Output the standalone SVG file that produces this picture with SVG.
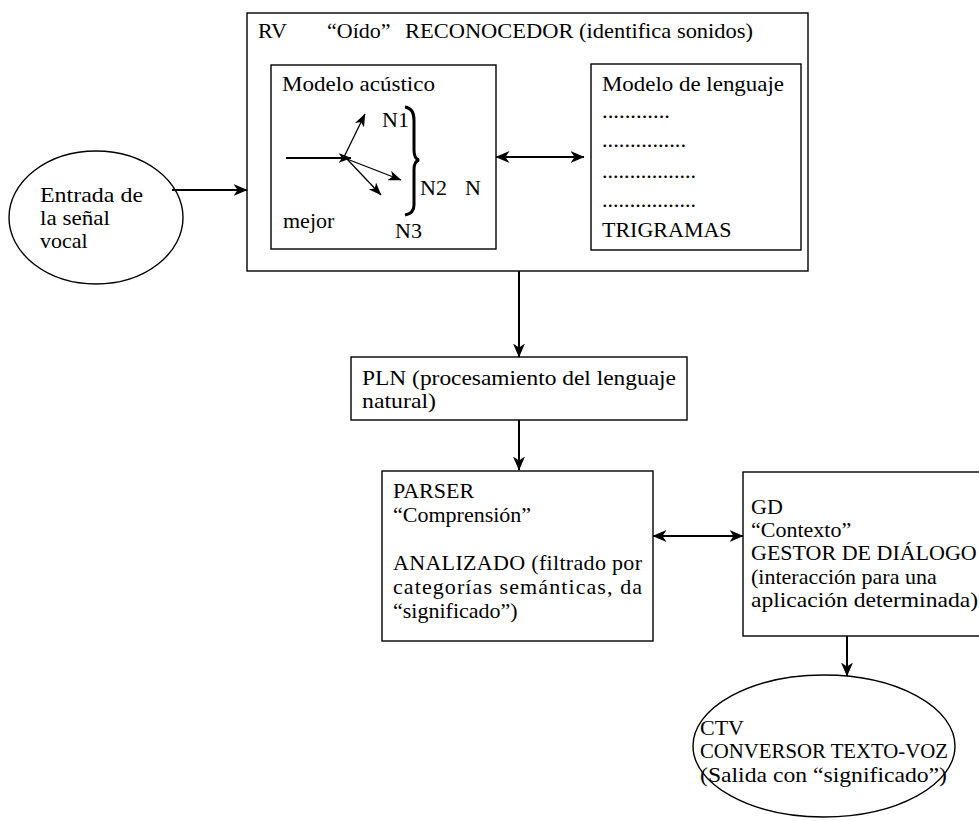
<svg xmlns="http://www.w3.org/2000/svg" width="979" height="821" viewBox="0 0 979 821" font-family="'Liberation Serif', 'DejaVu Serif', 'Times New Roman', serif" font-size="22">
<style>
text{font-family:'Liberation Serif','DejaVu Serif','Times New Roman',serif;font-size:22px;fill:#000}
.box{fill:#fff;stroke:#000;stroke-width:1.4}
.con{fill:none;stroke:#000;stroke-width:2}
.thin{fill:none;stroke:#000;stroke-width:1.3}
</style>
<defs>
<marker id="ah" viewBox="0 0 14 12" markerWidth="14" markerHeight="12" refX="13.5" refY="6" orient="auto-start-reverse" markerUnits="userSpaceOnUse"><path d="M0,0 L14,6 L0,12 L4,6 Z" fill="#000"/></marker>
<marker id="ahs" viewBox="0 0 13 10" markerWidth="13" markerHeight="10" refX="12.5" refY="5" orient="auto" markerUnits="userSpaceOnUse"><path d="M0,0 L13,5 L0,10 L3.5,5 Z" fill="#000"/></marker>
</defs>
<rect width="979" height="821" fill="#fff"/>

<g id="rv">
<rect class="box" x="247" y="13" width="561" height="258"/>
<text x="258" y="38">RV</text>
<text x="327" y="38">“Oído”</text>
<text x="405" y="38" textLength="348" lengthAdjust="spacingAndGlyphs">RECONOCEDOR (identifica sonidos)</text>
</g>

<g id="acustico">
<rect class="box" x="271" y="65" width="225" height="184"/>
<text x="282" y="91" textLength="153" lengthAdjust="spacingAndGlyphs">Modelo acústico</text>
<g id="acustico-ramas">
<path class="con" d="M286,158 L351,158" marker-end="url(#ahs)"/>
<path class="thin" d="M344,157 L365,114" marker-end="url(#ahs)"/>
<path class="thin" d="M347,159 L401,180" marker-end="url(#ahs)"/>
<path class="thin" d="M347,159 L381,195" marker-end="url(#ahs)"/>
<path d="M405,107 C412,108 414,113 414,120 L414,150 C414,156 415,159 419,160 C415,161 414,164 414,170 L414,205 C414,211 411,214 405,215" fill="none" stroke="#000" stroke-width="3"/>
</g>
<text x="382" y="127">N1</text>
<text x="420" y="195">N2</text>
<text x="465" y="195">N</text>
<text x="395" y="238">N3</text>
<text x="283" y="228">mejor</text>
</g>

<g id="lenguaje">
<rect class="box" x="591" y="64" width="210" height="186"/>
<text x="602" y="91" textLength="182" lengthAdjust="spacingAndGlyphs">Modelo de lenguaje</text>
<text x="602" y="118" textLength="68" lengthAdjust="spacingAndGlyphs">............</text>
<text x="602" y="147" textLength="84" lengthAdjust="spacingAndGlyphs">...............</text>
<text x="602" y="178" textLength="94" lengthAdjust="spacingAndGlyphs">.................</text>
<text x="602" y="207" textLength="94" lengthAdjust="spacingAndGlyphs">.................</text>
<text x="602" y="237">TRIGRAMAS</text>
</g>

<g id="entrada">
<ellipse cx="96" cy="217.5" rx="87" ry="66.5" fill="#fff" stroke="#000" stroke-width="1.4"/>
<text x="40" y="202" textLength="103" lengthAdjust="spacingAndGlyphs">Entrada de</text>
<text x="40" y="225" textLength="70" lengthAdjust="spacingAndGlyphs">la señal</text>
<text x="40" y="248">vocal</text>
</g>

<g id="pln">
<rect class="box" x="351" y="357" width="336" height="63"/>
<text x="362" y="385" textLength="314" lengthAdjust="spacingAndGlyphs">PLN (procesamiento del lenguaje</text>
<text x="362" y="408" textLength="74" lengthAdjust="spacingAndGlyphs">natural)</text>
</g>

<g id="parser">
<rect class="box" x="382" y="471" width="271" height="170"/>
<text x="393" y="498">PARSER</text>
<text x="393" y="522">“Comprensión”</text>
<text x="393" y="570" textLength="249" lengthAdjust="spacing">ANALIZADO (filtrado por</text>
<text x="393" y="594" textLength="249" lengthAdjust="spacing">categorías semánticas, da</text>
<text x="393" y="618">“significado”)</text>
</g>

<g id="gd">
<rect class="box" x="743" y="472" width="250" height="164"/>
<text x="751" y="514">GD</text>
<text x="751" y="537">“Contexto”</text>
<text x="751" y="560">GESTOR DE DIÁLOGO</text>
<text x="751" y="584">(interacción para una</text>
<text x="751" y="607" textLength="227" lengthAdjust="spacingAndGlyphs">aplicación determinada)</text>
</g>

<g id="ctv">
<ellipse cx="824" cy="746" rx="131" ry="71" fill="#fff" stroke="#000" stroke-width="1.4"/>
<text x="700" y="735">CTV</text>
<text x="700" y="758" textLength="248" lengthAdjust="spacingAndGlyphs">CONVERSOR TEXTO-VOZ</text>
<text x="700" y="782" textLength="247" lengthAdjust="spacingAndGlyphs">(Salida con “significado”)</text>
</g>

<g id="connectors">
<path class="con" d="M172,190 H247" marker-end="url(#ah)"/>
<path class="con" d="M496,157 H584" marker-start="url(#ah)" marker-end="url(#ah)"/>
<path class="con" d="M519,271 V357" marker-end="url(#ah)"/>
<path class="con" d="M519,420 V470" marker-end="url(#ah)"/>
<path class="con" d="M653,536 H743" marker-start="url(#ah)" marker-end="url(#ah)"/>
<path class="con" d="M847,636 V676" marker-end="url(#ah)"/>
</g>
</svg>
